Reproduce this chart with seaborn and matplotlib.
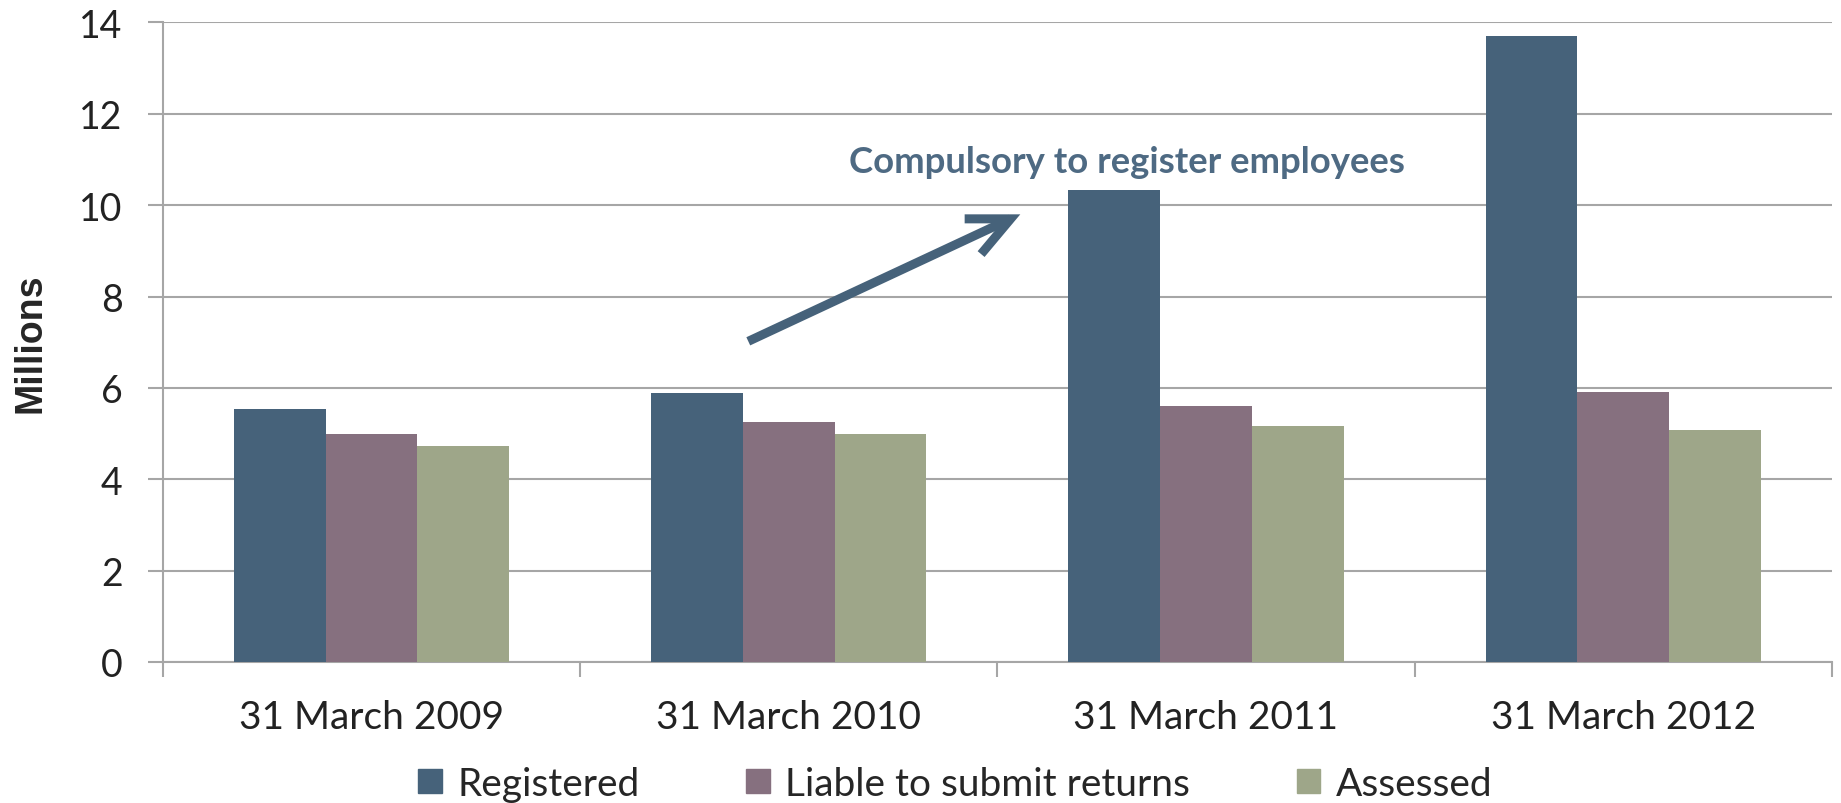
import matplotlib
matplotlib.use("Agg")
import matplotlib.pyplot as plt
import seaborn as sns
import pandas as pd
from matplotlib.ticker import FixedLocator

categories = ["31 March 2009", "31 March 2010", "31 March 2011", "31 March 2012"]
series_names = ["Registered", "Liable to submit returns", "Assessed"]
registered = [5.54, 5.88, 10.33, 13.71]
liable = [5.00, 5.25, 5.61, 5.90]
assessed = [4.72, 4.98, 5.16, 5.07]
colors = ["#46627A", "#86707F", "#9EA689"]
yticks = [0, 2, 4, 6, 8, 10, 12, 14]
annotation_text = "Compulsory to register employees"

rows = []
for name, vals in zip(series_names, [registered, liable, assessed]):
    for c, v in zip(categories, vals):
        rows.append({"Date": c, "Series": name, "Value": v})
df = pd.DataFrame(rows)

sns.set_theme(style="white")
plt.rcParams["font.family"] = ["Lato", "DejaVu Sans"]

fig = plt.figure(figsize=(18.41, 8.04), dpi=100)
ax = fig.add_axes([0.0885, 0.1754, 0.9065, 0.7954])

sns.barplot(data=df, x="Date", y="Value", hue="Series", order=categories,
            hue_order=series_names, palette=colors, width=0.66, saturation=1,
            ax=ax, errorbar=None, edgecolor="none", linewidth=0, zorder=3)

ax.set_ylim(0, 14)
ax.set_xlim(-0.5, len(categories) - 0.5)
ax.yaxis.set_major_locator(FixedLocator(yticks))
ax.grid(axis="y", color="#A6A6A6", linewidth=1.5, zorder=0)
ax.set_axisbelow(True)

for s in ["top", "right"]:
    ax.spines[s].set_visible(False)
for s in ["left", "bottom"]:
    ax.spines[s].set_color("#A6A6A6")
    ax.spines[s].set_linewidth(1.5)

ax.tick_params(axis="y", which="major", length=11, width=1.5, color="#A6A6A6",
               labelsize=27, labelcolor="#222222", pad=18, left=True)
ax.tick_params(axis="x", which="major", length=0, labelsize=28,
               labelcolor="#222222", pad=27)
ax.xaxis.set_minor_locator(FixedLocator([i - 0.5 for i in range(len(categories) + 1)]))
ax.tick_params(axis="x", which="minor", length=11, width=1.5, color="#A6A6A6", bottom=True)

ax.set_xlabel("")
ax.set_ylabel("Millions", fontsize=27, fontweight="bold",
              family=["Liberation Sans", "DejaVu Sans"], labelpad=22)

ax.annotate("", xy=(1.555, 9.80), xytext=(0.903, 7.02),
            arrowprops=dict(arrowstyle="->,head_length=1.5,head_width=0.7",
                            mutation_scale=20,
                            color="#46627A", lw=6.5, shrinkA=0, shrinkB=0,
                            capstyle="butt", joinstyle="miter"),
            zorder=5)
ax.text(1.81, 10.95, annotation_text, ha="center", va="center",
        fontsize=26.3, fontweight="bold", color="#4E6A83", zorder=5)

ax.legend_.remove()
handles = [plt.Rectangle((0, 0), 1, 1, color=c) for c in colors]
fig.legend(handles, series_names, loc="lower center", bbox_to_anchor=(0.519, -0.042),
           ncol=3, frameon=False, fontsize=28, handlelength=0.6, handleheight=0.6,
           handletextpad=0.4, columnspacing=2.75)

fig.savefig("out.png", dpi=100)
